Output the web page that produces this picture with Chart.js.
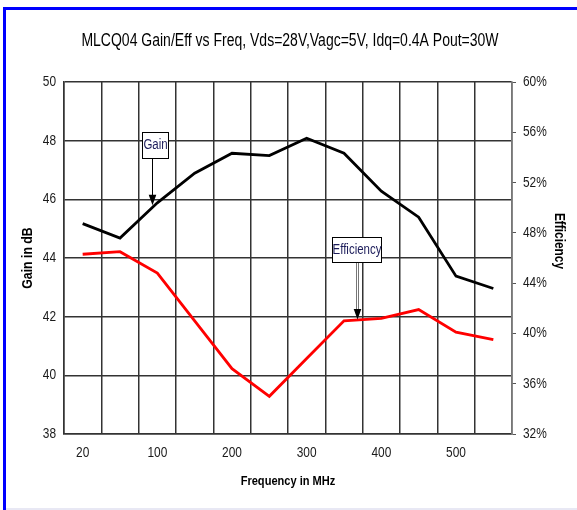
<!DOCTYPE html>
<html>
<head>
<meta charset="utf-8">
<script src="https://cdn.jsdelivr.net/npm/chart.js@4"></script>
<style>
  html, body { margin: 0; padding: 0; background: #ffffff; }
  #wrap { width: 577px; height: 510px; position: relative; }
</style>
</head>
<body>
<div id="wrap"><canvas id="c" width="577" height="510"></canvas></div>
<script>
// ---- data ----
const frequencies = ['20', '50', '100', '150', '200', '250', '300', '350', '400', '450', '500', '550'];
const gainDb = [45.17, 44.68, 45.88, 46.89, 47.57, 47.49, 48.08, 47.57, 46.28, 45.39, 43.38, 42.96];
const efficiencyPct = [46.3, 46.5, 44.8, 41.0, 37.2, 35.0, 38.0, 41.0, 41.2, 41.9, 40.1, 39.5];
const gainTicks = [38, 40, 42, 44, 46, 48, 50];
const effTicks = [32, 36, 40, 44, 48, 52, 56, 60];
const titleText = 'MLCQ04 Gain/Eff vs Freq, Vds=28V,Vagc=5V, Idq=0.4A Pout=30W';
const xTitle = 'Frequency in MHz';
const yLeftTitle = 'Gain in dB';
const yRightTitle = 'Efficiency';
// callouts: text, box centre (category index, axis value), arrow tip (category index, axis value)
const callouts = [
  { text: 'Gain', axis: 'yG', boxX: 1.95, boxY: 48.28, tipX: 1.85, tipY: 45.8, w: 26, h: 26, stem: 'single' },
  { text: 'Efficiency', axis: 'yE', boxX: 7.33, boxY: 47.7, tipX: 7.36, tipY: 41.1, w: 49, h: 25, stem: 'double' }
];

const FONT = '"Liberation Sans", Arimo, Arial, sans-serif';
const SX = 0.82; // horizontal squeeze to imitate a narrow face
const GRID = '#333333';

function narrowText(ctx, text, x, y, o) {
  ctx.save();
  ctx.translate(x, y);
  if (o.rot) ctx.rotate(o.rot);
  ctx.scale(o.sx || SX, 1);
  ctx.font = (o.bold ? 'bold ' : '') + o.size + 'px ' + FONT;
  ctx.textAlign = o.align || 'center';
  ctx.textBaseline = o.baseline || 'middle';
  ctx.fillStyle = o.color || '#000';
  ctx.fillText(text, 0, 0);
  ctx.restore();
}

const framePlugin = {
  id: 'frame',
  beforeDraw(chart) {
    const ctx = chart.ctx;
    ctx.save();
    ctx.fillStyle = '#ffffff';
    ctx.fillRect(0, 0, chart.width, chart.height);
    ctx.fillStyle = '#0000ff';
    ctx.fillRect(3, 7, 3, chart.height - 7);
    ctx.fillRect(3, 7, chart.width - 3, 3);
    ctx.fillStyle = '#e8e8f4';
    ctx.fillRect(6, chart.height - 2, chart.width - 6, 2);
    ctx.restore();
  }
};

const textPlugin = {
  id: 'texts',
  afterDraw(chart) {
    const ctx = chart.ctx;
    const xs = chart.scales.x, yg = chart.scales.yG, ye = chart.scales.yE;
    const area = chart.chartArea;
    // title
    narrowText(ctx, titleText, (area.left + area.right) / 2 + 2, 41, { size: 17.5, sx: 0.8 });
    // x tick labels
    frequencies.forEach((f, i) => {
      if (i % 2 === 0) narrowText(ctx, f, xs.getPixelForValue(i), area.bottom + 19, { size: 14.5, color: '#1a1a1a' });
    });
    // left tick labels
    gainTicks.forEach(v => narrowText(ctx, String(v), area.left - 8, yg.getPixelForValue(v), { size: 14.5, align: 'right', color: '#1a1a1a' }));
    // right tick labels
    effTicks.forEach(v => narrowText(ctx, v + '%', area.right + 11, ye.getPixelForValue(v), { size: 14.5, align: 'left', color: '#1a1a1a' }));
    // axis titles
    narrowText(ctx, xTitle, (area.left + area.right) / 2, 481, { size: 13.5, bold: true });
    narrowText(ctx, yLeftTitle, 28, (area.top + area.bottom) / 2, { size: 15, bold: true, rot: -Math.PI / 2 });
    narrowText(ctx, yRightTitle, 559, (area.top + area.bottom) / 2 - 17, { size: 14.5, bold: true, rot: Math.PI / 2 });
  },
  afterDatasetsDraw(chart) {
    const ctx = chart.ctx;
    const xs = chart.scales.x;
    ctx.save();
    callouts.forEach(c => {
      const ys = chart.scales[c.axis];
      const bx = xs.getPixelForValue(c.boxX);
      const by = ys.getPixelForValue(c.boxY);
      const tx = Math.round(xs.getPixelForValue(c.tipX)) + 0.5;
      const ty = ys.getPixelForValue(c.tipY);
      const left = Math.round(bx - c.w / 2) + 0.5;
      const top = Math.round(by) + 0.5;
      // stem
      ctx.lineWidth = 1;
      if (c.stem === 'double') {
        ctx.strokeStyle = '#777';
        ctx.beginPath();
        ctx.moveTo(tx - 1, top + c.h); ctx.lineTo(tx - 1, ty - 9);
        ctx.moveTo(tx + 1, top + c.h); ctx.lineTo(tx + 1, ty - 9);
        ctx.stroke();
      } else {
        ctx.strokeStyle = '#000';
        ctx.beginPath();
        ctx.moveTo(tx, top + c.h); ctx.lineTo(tx, ty - 9);
        ctx.stroke();
      }
      // head
      ctx.fillStyle = '#000';
      ctx.beginPath();
      ctx.moveTo(tx, ty);
      ctx.lineTo(tx - 3.8, ty - 10.5);
      ctx.lineTo(tx + 3.8, ty - 10.5);
      ctx.closePath();
      ctx.fill();
      // box
      ctx.fillStyle = '#ffffff';
      ctx.fillRect(left, top, c.w, c.h);
      ctx.strokeStyle = '#000';
      ctx.strokeRect(left, top, c.w, c.h);
      narrowText(ctx, c.text, left + c.w / 2, top + c.h / 2, { size: 14, color: '#1c1c5a' });
    });
    ctx.restore();
  }
};

new Chart(document.getElementById('c'), {
  type: 'line',
  data: {
    labels: frequencies,
    datasets: [
      { label: 'Gain', data: gainDb, yAxisID: 'yG', borderColor: '#000000', borderWidth: 2.8, pointRadius: 0, tension: 0, fill: false },
      { label: 'Efficiency', data: efficiencyPct, yAxisID: 'yE', borderColor: '#ff0000', borderWidth: 2.8, pointRadius: 0, tension: 0, fill: false }
    ]
  },
  options: {
    responsive: false,
    animation: false,
    layout: { padding: { top: 82, left: 0, right: 0, bottom: 0 } },
    plugins: {
      legend: { display: false },
      tooltip: { enabled: false },
      title: { display: false }
    },
    scales: {
      x: {
        type: 'category',
        offset: true,
        afterFit(s) { s.height = 76; },
        grid: { display: true, offset: true, color: GRID, lineWidth: 1.5, drawTicks: false },
        border: { display: true, color: GRID, width: 1.5 },
        ticks: { display: false, autoSkip: false },
        title: { display: false }
      },
      yG: {
        type: 'linear', position: 'left', min: 38, max: 50,
        afterFit(s) { s.width = 64; },
        afterBuildTicks(s) { s.ticks = gainTicks.map(v => ({ value: v })); },
        grid: { color: GRID, lineWidth: 1.5, drawTicks: false },
        border: { display: true, color: GRID, width: 1.5 },
        ticks: { display: false },
        title: { display: false }
      },
      yE: {
        type: 'linear', position: 'right', min: 32, max: 60,
        afterFit(s) { s.width = 65; },
        afterBuildTicks(s) { s.ticks = effTicks.map(v => ({ value: v })); },
        grid: { drawOnChartArea: false, drawTicks: true, tickLength: 4, color: '#555', lineWidth: 1 },
        border: { display: true, color: '#777', width: 1.5 },
        ticks: { display: false },
        title: { display: false }
      }
    }
  },
  plugins: [framePlugin, textPlugin]
});
</script>
</body>
</html>
